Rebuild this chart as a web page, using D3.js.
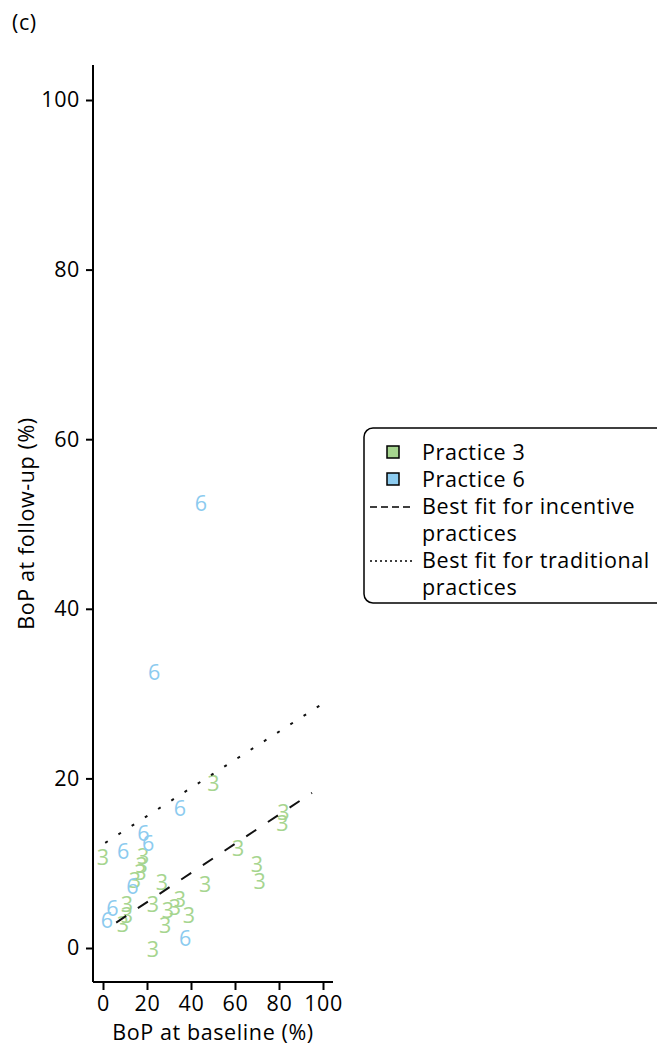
<!DOCTYPE html>
<html>
<head>
<meta charset="utf-8">
<script src="https://cdn.jsdelivr.net/npm/d3@7"></script>
<style>
  html, body { margin: 0; padding: 0; background: #fff; }
  svg { display: block; font-family: "Open Sans", "Noto Sans", sans-serif; }
  .lbl { letter-spacing: 0.6px; }
</style>
</head>
<body>
<svg id="chart" width="657" height="1048"></svg>
<script>
// Practice 3 patients: bleeding on probing at baseline vs follow-up (%)
const practice3X = [0, 18.2, 17.6, 17, 14.5, 26.8, 46.4, 10.9, 10.9, 9.1, 22.7, 29.5, 32.7, 35, 39.1, 28.2, 22.7, 50.2, 82, 81.6, 61.4, 70, 71.2];
const practice3Y = [10.7, 10.8, 9.8, 8.9, 8.0, 7.8, 7.5, 5.1, 3.9, 2.8, 5.1, 4.5, 4.8, 5.7, 3.9, 2.7, -0.2, 19.4, 16.0, 14.7, 11.8, 9.9, 7.9];

// Practice 6 patients
const practice6X = [44.5, 23.2, 35, 18.4, 20.5, 9.2, 13.4, 4.3, 1.8, 37.3];
const practice6Y = [52.5, 32.5, 16.5, 13.5, 12.4, 11.4, 7.3, 4.7, 3.3, 1.2];

// Fitted lines (end points in data units)
const incentiveFit = [[6, 3.0], [95, 18.3]];
const traditionalFit = [[1, 12.4], [101, 29.0]];

const xTicks = [0, 20, 40, 60, 80, 100];
const yTicks = [0, 20, 40, 60, 80, 100];

const legendItems = ["Practice 3", "Practice 6", "Best fit for incentive", "practices", "Best fit for traditional", "practices"];

const green = "#a6d58f";
const blue = "#8ccbef";

const svg = d3.select("#chart");
const x = d3.scaleLinear().domain([0, 100]).range([103, 323]);
const y = d3.scaleLinear().domain([0, 100]).range([948, 100]);

const fs = 21.5;

// panel letter
svg.append("text").attr("class", "lbl").attr("x", 12).attr("y", 30).attr("font-size", fs).text("(c)");

// axes
const xAxisY = 982, yAxisX = 93;
const xAxis = d3.axisBottom(x).tickValues(xTicks).tickSize(8).tickPadding(6).tickSizeOuter(0);
const gx = svg.append("g").attr("transform", `translate(0,${xAxisY})`).call(xAxis);
gx.select(".domain").attr("d", `M${yAxisX},0H333`);
const yAxis = d3.axisLeft(y).tickValues(yTicks).tickSize(7).tickPadding(6).tickSizeOuter(0);
const gy = svg.append("g").attr("transform", `translate(${yAxisX},0)`).call(yAxis);
gy.select(".domain").attr("d", `M0,65V${xAxisY}`);
[gx, gy].forEach(g => {
  g.selectAll("path, line").attr("stroke", "#000").attr("stroke-width", 2);
  g.selectAll("text").attr("font-size", fs).attr("fill", "#000")
    .attr("font-family", "Open Sans, sans-serif").style("letter-spacing", "0.6px");
});

// axis titles
svg.append("text").attr("class", "lbl").attr("x", x(50)).attr("y", 1040).attr("text-anchor", "middle")
  .attr("font-size", fs).text("BoP at baseline (%)");
svg.append("text").attr("class", "lbl").attr("transform", `translate(34,${(65 + xAxisY) / 2}) rotate(-90)`)
  .attr("text-anchor", "middle").attr("font-size", fs).text("BoP at follow-up (%)");

// points drawn as practice numbers
const pts3 = practice3X.map((v, i) => ({ x: v, y: practice3Y[i] }));
const pts6 = practice6X.map((v, i) => ({ x: v, y: practice6Y[i] }));
svg.append("g").selectAll("text").data(pts3).join("text")
  .attr("x", d => x(d.x)).attr("y", d => y(d.y)).attr("dy", "0.36em")
  .attr("text-anchor", "middle").attr("font-size", fs).attr("fill", green).text("3");
svg.append("g").selectAll("text").data(pts6).join("text")
  .attr("x", d => x(d.x)).attr("y", d => y(d.y)).attr("dy", "0.36em")
  .attr("text-anchor", "middle").attr("font-size", fs).attr("fill", blue).text("6");

// fit lines
const line = d3.line().x(d => x(d[0])).y(d => y(d[1]));
svg.append("path").attr("d", line(incentiveFit)).attr("stroke", "#111").attr("stroke-width", 2)
  .attr("fill", "none").attr("stroke-dasharray", "12,14");
svg.append("path").attr("d", line(traditionalFit)).attr("stroke", "#111").attr("stroke-width", 2)
  .attr("fill", "none").attr("stroke-dasharray", "3,12.7");

// legend
const lg = svg.append("g");
lg.append("rect").attr("x", 364).attr("y", 428).attr("width", 320).attr("height", 175)
  .attr("rx", 9).attr("fill", "#fff").attr("stroke", "#000").attr("stroke-width", 1.5);
const rowY = [460, 487, 514, 541, 568, 595];
lg.selectAll("text.item").data(legendItems).join("text").attr("class", "item lbl")
  .attr("x", 422).attr("y", (d, i) => rowY[i]).attr("font-size", fs).text(d => d);
[green, blue].forEach((c, i) => {
  lg.append("rect").attr("x", 387).attr("y", rowY[i] - 14).attr("width", 12).attr("height", 12)
    .attr("fill", c).attr("stroke", "#000").attr("stroke-width", 1.5);
});
lg.append("line").attr("x1", 370).attr("x2", 414).attr("y1", rowY[2] - 7).attr("y2", rowY[2] - 7)
  .attr("stroke", "#000").attr("stroke-width", 1.5).attr("stroke-dasharray", "7,4");
lg.append("line").attr("x1", 370).attr("x2", 414).attr("y1", rowY[4] - 7).attr("y2", rowY[4] - 7)
  .attr("stroke", "#000").attr("stroke-width", 1.5).attr("stroke-dasharray", "2,3");
</script>
</body>
</html>
